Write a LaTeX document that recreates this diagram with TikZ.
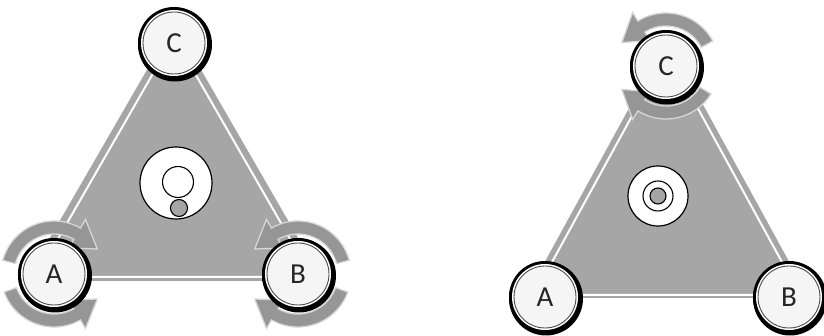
\documentclass[tikz,border=0pt]{standalone}
\usepackage{fontspec}
\setmainfont{Carlito}
\begin{document}
\begin{tikzpicture}[x=1pt,y=1pt,
  tri/.style={fill=triGray, draw=none},
  triline/.style={draw=white, line width=2pt, line join=miter},
  arrowsty/.style={fill=arrGray, draw=arrEdge, line width=1.3pt, line join=miter},
  hub/.style={circle, fill=white, draw=black, line width=1.2pt, inner sep=0pt},
  ring/.style={circle, draw=black, line width=1.1pt, inner sep=0pt},
  dot/.style={circle, fill=triGray, draw=black, line width=1.1pt, inner sep=0pt},
  lbl/.style={font=\fontsize{29}{30}\selectfont, text=black!85, inner sep=0pt}
]
\definecolor{triGray}{HTML}{A6A6A6}
\definecolor{arrGray}{HTML}{969696}
\definecolor{arrEdge}{HTML}{D6D6D6}
\definecolor{discFill}{HTML}{F5F5F5}
\useasboundingbox (0,0) rectangle (824,336);
\fill[white] (0,0) rectangle (824,336);

\def\rin{40pt}\def\rout{53pt}\def\rhin{30pt}\def\rhout{63pt}\def\rmid{50pt}
\newcommand\cyclearrow[4]{%
  \draw[arrowsty, shift={(#1)}] (#2:\rin) arc[start angle=#2, end angle=#3, radius=\rin]
    -- (#3:\rhin) -- (#4:\rmid) -- (#3:\rhout) -- (#3:\rout)
    arc[start angle=#3, end angle=#2, radius=\rout] -- cycle;}
\newcommand\vertexdisc[3]{% name, position, letter
  \fill[black] ([shift={(1pt,-1.5pt)}]#2) circle[radius=37pt];
  \fill[black] (#2) circle[radius=36pt];
  \fill[white] (#2) circle[radius=33pt];
  \node[circle, fill=discFill, draw=black!70, line width=0.9pt, minimum size=62pt, inner sep=0pt] (#1) at (#2) {};
  \node[lbl] at (#1) {#3};}

% ---------------- left figure ----------------
\coordinate (LA) at (54,62);
\coordinate (LB) at (298,62);
\coordinate (LC) at (174,293);
\fill[tri] (174,313) -- (25,55) -- (323,55) -- cycle;
\draw[triline] (174,299) -- (36,59) -- (312,59) -- cycle;

\node[hub, minimum size=72pt] (Lhub) at (176,153) {};
\node[ring, minimum size=31pt] (Lring) at (178,154) {};
\node[dot, minimum size=17pt] (Ldot) at (179,128) {};

\cyclearrow{LA}{165}{60}{30}
\cyclearrow{LA}{200}{300}{330}
\cyclearrow{LB}{15}{120}{150}
\cyclearrow{LB}{-20}{-120}{-150}

\vertexdisc{nLA}{LA}{A}
\vertexdisc{nLB}{LB}{B}
\vertexdisc{nLC}{LC}{C}

% ---------------- right figure ----------------
\coordinate (RA) at (545,39);
\coordinate (RB) at (789,39);
\coordinate (RC) at (666,270);
\fill[tri] (667,297) -- (525,38) -- (809,38) -- cycle;
\draw[triline] (667,284) -- (534,41) -- (800,41) -- cycle;

\node[hub, minimum size=60pt] (Rhub) at (658,140) {};
\node[ring, minimum size=30pt] (Rring) at (658,140) {};
\node[dot, minimum size=16pt] (Rdot) at (658,140) {};

\cyclearrow{RC}{28}{122}{152}
\cyclearrow{RC}{-32}{-122}{-152}

\vertexdisc{nRA}{RA}{A}
\vertexdisc{nRB}{RB}{B}
\vertexdisc{nRC}{RC}{C}
\end{tikzpicture}
\end{document}
